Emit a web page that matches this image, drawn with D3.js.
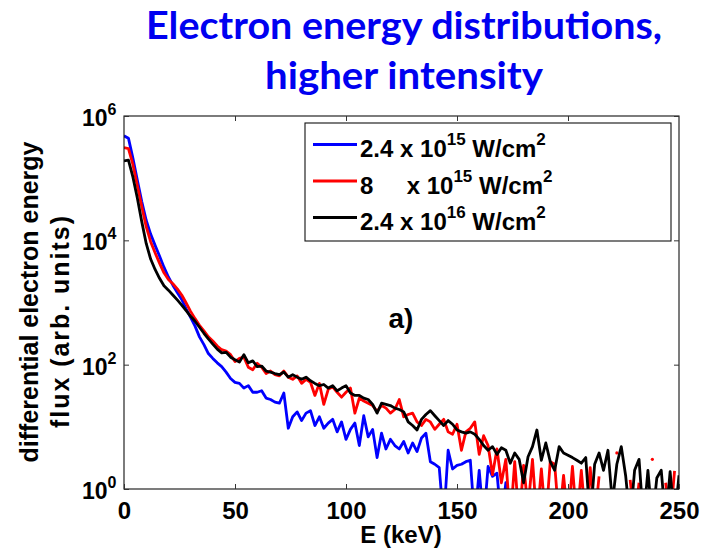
<!DOCTYPE html>
<html>
<head>
<meta charset="utf-8">
<script src="https://cdn.jsdelivr.net/npm/d3@7"></script>
<style>
  body { margin: 0; background: #fff; }
  text { font-family: "Liberation Sans", Arial, Helvetica, sans-serif; font-weight: bold; fill: #000; }
</style>
</head>
<body>
<svg id="chart" width="712" height="549"></svg>
<script>
// energy grid (keV), 2 keV bins
const energy = d3.range(0, 251, 2);

// flux; 0.3 = dips below the axis, null = no data (gap)
const flux24e15 = [
  4.8e5, 4.4e5, 2.1e5, 9.3e4, 4.2e4, 2.1e4, 1.26e4, 8.3e3, 5.6e3, 3.7e3,
  2.57e3, 1.9e3, 1.45e3, 1.12e3, 790, 575, 417, 280, 210, 151,
  126, 107, 93, 76, 60, 52, 50, 42, 46, 36,
  36, 38, 29, 27.5, 25, 24, 35, 9.5, 14.5, 17.4,
  12.6, 16.6, 18.2, 10.5, 14.5, 9.5, 11.5, 13.2, 8.3, 12,
  6.3, 9.1, 11.5, 5.0, 15.1, 6.9, 9.1, 3.2, 7.9, 4.4,
  6.3, 5.0, 4.4, 5.8, 3.8, 5.5, 4.0, 6.6, 7.9, 2.75,
  2.5, 2.2, 0.3, 4.2, 2.1, 2.4, 2.5, 2.75, 2.9, 0.3,
  2.0, 0.3, 2.3, 1.6, 1.8, 0.3, 1.26, 0.3, null, null,
  null, null, null, null, null, null, null, null, null, null,
  null, null, null, null, null, null, null, null, null, null,
  null, null, null, null, null, null, null, null, null, null,
  null, null, null, null, null, null
];
const flux8e15 = [
  3.1e5, 3.0e5, 1.66e5, 7.6e4, 3.5e4, 1.66e4, 9.5e3, 6.3e3, 4.3e3, 3.0e3,
  2.35e3, 2.0e3, 1.66e3, 1.32e3, 980, 720, 550, 430, 350, 280,
  240, 200, 174, 166, 145, 112, 126, 132, 91, 83,
  105, 91, 72, 79, 69, 66, 79, 63, 58, 66,
  50, 58, 52, 32, 50, 23, 40, 44, 36, 30,
  36, 42, 16.6, 29, 26, 24, 22, 17.8, 22, 20,
  16.6, 19, 27.5, 14.5, 15.8, 16.6, 12, 10.5, 13.2, 12,
  9.1, 11, 13.2, 8.3, 7.6, 11, 4.2, 8.3, 9.5, 12,
  3.6, 7.2, 5.0, 1.7, 4.4, 1.26, 3.0, 0.3, 2.75, 0.3,
  2.4, 0.5, 3.0, 0.3, 2.1, 0.3, 2.75, 2.5, 0.3, 1.66,
  0.3, 2.3, 0.3, 2.0, 0.3, 2.2, 0.3, 1.6, null, null,
  null, 3.8, null, null, 1.4, 0.3, 1.26, null, null, 3.0,
  null, null, 1.26, 0.3, 1.95, null
];
const flux24e16 = [
  1.9e5, 1.95e5, 1.05e5, 4.8e4, 2.0e4, 8.9e3, 5.0e3, 3.4e3, 2.45e3, 1.86e3,
  1.58e3, 1.32e3, 1.1e3, 910, 740, 600, 500, 400, 320, 260,
  214, 178, 155, 158, 132, 120, 110, 145, 107, 115,
  93, 95, 79, 76, 72, 69, 76, 63, 69, 63,
  58, 63, 55, 50, 46, 48, 42, 46, 38, 42,
  46, 35, 32, 32, 29, 27.5, 23, 16.6, 24, 23,
  22, 20, 19, 17.4, 12, 10.5, 8.9, 13.2, 15.8, 18.2,
  15.1, 12.6, 10.5, 12.6, 11, 8.9, 8.3, 7.9, 8.3, 7.6,
  6.3, 5.0, 4.2, 4.8, 3.6, 4.6, 4.2, 2.6, 3.8, 3.0,
  1.26, 3.3, 4.8, 8.9, 2.9, 5.5, 2.75, 2.0, 4.8, 3.8,
  3.5, 3.2, 2.9, 2.6, 3.2, 0.3, 2.5, 3.8, 2.0, 4.2,
  0.6, 2.5, 4.8, 1.6, 0.3, 2.0, 3.0, 0.3, 2.0, 0.3,
  1.5, 2.0, 0.3, 1.9, 0.3, 1.66
];

const seriesNames = ["2.4 x 10", "8     x 10", "2.4 x 10"];
const seriesExp = ["15", "15", "16"];
const seriesColors = ["#0000ff", "#ff0000", "#000000"];
const seriesData = [flux24e15, flux8e15, flux24e16];

const xTicks = [0, 50, 100, 150, 200, 250];
const yTicks = [1, 1e2, 1e4, 1e6];
const yTickExp = ["0", "2", "4", "6"];

const titleLines = ["Electron energy distributions,", "higher intensity"];

const svg = d3.select("#chart");
const plotL = 124, plotR = 679, plotT = 116, plotB = 489;

const x = d3.scaleLinear().domain([0, 250]).range([plotL, plotR]);
const y = d3.scaleLog().domain([1, 1e6]).range([plotB, plotT]);

// title
svg.selectAll("text.title")
  .data(titleLines)
  .join("text")
  .attr("class", "title")
  .attr("x", 404)
  .attr("y", (d, i) => i === 0 ? 39 : 89)
  .attr("text-anchor", "middle")
  .attr("textLength", (d, i) => i === 0 ? 516 : 278)
  .attr("lengthAdjust", "spacingAndGlyphs")
  .style("font-family", "Lato, 'Open Sans', sans-serif")
  .style("font-size", "38px")
  .style("fill", "#0000f0")
  .text(d => d);

svg.append("defs").append("clipPath").attr("id", "plot-clip")
  .append("rect")
  .attr("x", plotL).attr("y", plotT)
  .attr("width", plotR - plotL).attr("height", plotB - plotT);

// lines
const line = d3.line()
  .defined(d => d.v != null)
  .x(d => x(d.e))
  .y(d => y(d.v));

const plot = svg.append("g").attr("clip-path", "url(#plot-clip)");

seriesData.forEach((vals, k) => {
  const pts = energy.map((e, i) => ({ e, v: vals[i] }));
  plot.append("path")
    .datum(pts)
    .attr("fill", "none")
    .attr("stroke", seriesColors[k])
    .attr("stroke-width", 2.8)
    .attr("stroke-linejoin", "round")
    .attr("d", line);

  // lone points show up as dots
  const lone = pts.filter((d, i) => d.v != null &&
    (i === 0 || pts[i - 1].v == null) && (i === pts.length - 1 || pts[i + 1].v == null));
  plot.selectAll(null)
    .data(lone)
    .join("circle")
    .attr("cx", d => x(d.e))
    .attr("cy", d => y(d.v))
    .attr("r", 1.6)
    .attr("fill", seriesColors[k]);
});

// axes box
svg.append("rect")
  .attr("x", plotL).attr("y", plotT)
  .attr("width", plotR - plotL).attr("height", plotB - plotT)
  .attr("fill", "none")
  .attr("stroke", "#111")
  .attr("stroke-width", 1.1);

const xAxis = svg.append("g")
  .attr("transform", `translate(0,${plotB})`)
  .call(d3.axisBottom(x).tickValues(xTicks).tickSizeInner(-5).tickSizeOuter(0).tickPadding(13));
xAxis.select(".domain").remove();
xAxis.selectAll("text").style("font-size", "24px");

svg.append("g")
  .attr("transform", `translate(0,${plotT})`)
  .call(d3.axisTop(x).tickValues(xTicks.slice(1, -1)).tickSizeInner(-5).tickSizeOuter(0).tickFormat(() => ""))
  .select(".domain").remove();

svg.append("g")
  .attr("transform", `translate(${plotL},0)`)
  .call(d3.axisLeft(y).tickValues(yTicks).tickSizeInner(-5).tickSizeOuter(0).tickFormat(() => ""))
  .select(".domain").remove();

svg.append("g")
  .attr("transform", `translate(${plotR},0)`)
  .call(d3.axisRight(y).tickValues(yTicks).tickSizeInner(-5).tickSizeOuter(0).tickFormat(() => ""))
  .select(".domain").remove();

svg.selectAll(".tick line").attr("stroke", "#333");

// y tick labels as 10^n
const yLab = svg.append("g").selectAll("text")
  .data(yTicks)
  .join("text")
  .attr("x", 82)
  .attr("y", d => y(d) + 10)
  .style("font-size", "23px");
yLab.append("tspan").text("10");
yLab.append("tspan")
  .attr("dy", -11)
  .style("font-size", "16px")
  .text((d, i) => yTickExp[i]);

// axis labels
svg.append("text")
  .attr("x", 401).attr("y", 543)
  .attr("text-anchor", "middle")
  .style("font-size", "24px")
  .text("E (keV)");

svg.append("text")
  .attr("transform", "translate(38,302) rotate(-90)")
  .attr("text-anchor", "middle")
  .style("font-size", "25px")
  .text("differential electron energy");
svg.append("text")
  .attr("transform", "translate(69,322) rotate(-90)")
  .attr("text-anchor", "middle")
  .attr("textLength", 212)
  .attr("lengthAdjust", "spacing")
  .style("font-size", "25px")
  .text("flux (arb. units)");

svg.append("text")
  .attr("x", 401).attr("y", 328)
  .attr("text-anchor", "middle")
  .style("font-size", "28px")
  .text("a)");

// legend
const legend = svg.append("g");
legend.append("rect")
  .attr("x", 305).attr("y", 123)
  .attr("width", 366).attr("height", 118)
  .attr("fill", "#fff")
  .attr("stroke", "#111")
  .attr("stroke-width", 1.1);

const rows = legend.selectAll("g.row")
  .data(seriesNames)
  .join("g")
  .attr("class", "row")
  .attr("transform", (d, i) => `translate(0,${157 + i * 36.5})`);

rows.append("line")
  .attr("x1", 313).attr("x2", 357)
  .attr("y1", -12.5).attr("y2", -12.5)
  .attr("stroke", (d, i) => seriesColors[i])
  .attr("stroke-width", 2.8);

const lt = rows.append("text")
  .attr("x", 360)
  .attr("y", 0)
  .style("font-size", "24px")
  .style("white-space", "pre");
lt.append("tspan").text(d => d);
lt.append("tspan").attr("dy", -12).style("font-size", "17px").text((d, i) => seriesExp[i]);
lt.append("tspan").attr("dy", 12).text(" W/cm");
lt.append("tspan").attr("dy", -12).style("font-size", "17px").text("2");
</script>
</body>
</html>
